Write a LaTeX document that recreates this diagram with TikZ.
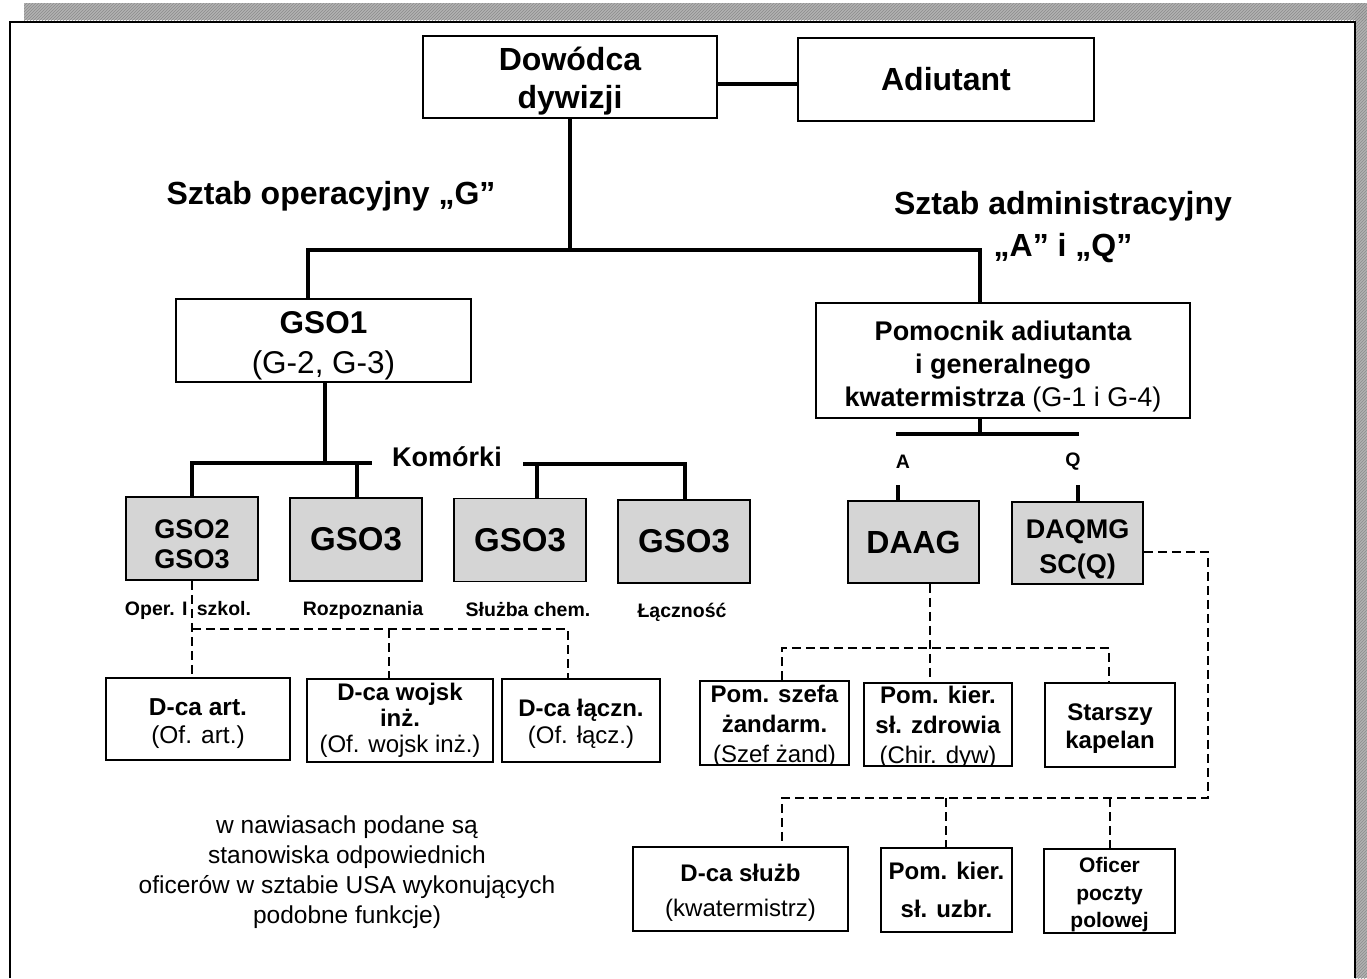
\documentclass[tikz,border=0pt]{standalone}
\usepackage{fontspec}
\setmainfont{Liberation Sans}
\usetikzlibrary{patterns}
\definecolor{cellgray}{RGB}{213,213,213}
\definecolor{stripgray}{RGB}{178,178,178}
\newcommand\fsz[2]{\fontsize{#1pt}{#2pt}\selectfont}

\begin{document}
\begin{tikzpicture}[x=1pt,y=-1pt,
  orgbox/.style={draw, line width=1.6pt, fill=white, inner sep=0pt, align=center},
  cell/.style={orgbox, fill=cellgray},
  % text set inside a box, clipped to it and moved down by a given amount
  intext/.style n args={3}{path picture={\node[font=#1, align=center, inner sep=0pt] at ([yshift=#2]path picture bounding box.center) {#3};}},
  link/.style={line width=3.2pt},
  dlink/.style={line width=2.4pt, dash pattern=on 9pt off 5pt},
  heading/.style={font=\fsz{32}{42}\bfseries, align=center, inner sep=0pt},
  lbl/.style={font=\fsz{19.5}{22}\bfseries, inner sep=0pt},
]
\useasboundingbox (0,0) rectangle (1367,978);

% grey hatched margins
\fill[stripgray] (24,3) rectangle (1367,20);
\fill[stripgray] (1355,3) rectangle (1367,978);
\fill[pattern=north east lines, pattern color=black!45] (24,3) rectangle (1367,20);
\fill[pattern=north east lines, pattern color=black!45] (1355,3) rectangle (1367,978);
% page frame
\draw[line width=2.2pt] (10,978) -- (10,22) -- (1355,22) -- (1355,978);

% command level
\node[orgbox, minimum width=294pt, minimum height=82pt,
  intext={\fsz{32}{38}\bfseries}{-4pt}{Dowódca\\dywizji}] (dow) at (570,77) {};
\node[orgbox, minimum width=296pt, minimum height=83pt, font=\fsz{32}{37}\bfseries] (adj) at (946,79.5) {Adiutant};

% staff headings
\node[heading] (hg) at (331,196) {Sztab operacyjny „G”};
\node[heading] (ha) at (1063,227) {Sztab administracyjny\\„A” i „Q”};

% senior staff officers
\node[orgbox, minimum width=295pt, minimum height=83pt,
  intext={\fsz{31.5}{40}}{-5pt}{\textbf{GSO1}\\(G-2, G-3)}] (gso1) at (323.5,340.5) {};
\node[orgbox, minimum width=374pt, minimum height=115pt,
  intext={\fsz{27}{33}\bfseries}{-6pt}{Pomocnik adiutanta\\i generalnego\\kwatermistrza {\mdseries (G-1 i G-4)}}] (pom) at (1003,360.5) {};

% cells
\node[font=\fsz{27}{30}\bfseries, inner sep=0pt] (kom) at (447,457) {Komórki};
\node[cell, minimum width=132pt, minimum height=83pt,
  intext={\fsz{27}{30}\bfseries}{-6pt}{GSO2\\GSO3}] (g1) at (192,538.5) {};
\node[cell, minimum width=132pt, minimum height=83pt, font=\fsz{33}{36}\bfseries] (g2) at (356,539.5) {GSO3};
\node[cell, minimum width=132pt, minimum height=83pt, font=\fsz{33}{36}\bfseries] (g3) at (520,540) {GSO3};
\node[cell, minimum width=132pt, minimum height=83pt, font=\fsz{33}{36}\bfseries] (g4) at (684,541.5) {GSO3};
\node[lbl] (l1) at (188,610) {Oper. I\hspace{4pt} szkol.};
\node[lbl] (l2) at (363,610) {Rozpoznania};
\node[lbl] (l3) at (528,610) {Służba chem.};
\node[lbl] (l4) at (682,612) {Łączność};

\node[lbl] (la) at (903,462) {A};
\node[lbl] (lq) at (1073,462) {Q};
\node[cell, minimum width=131pt, minimum height=82pt, font=\fsz{32}{36}\bfseries] (daag) at (913.5,542) {DAAG};
\node[cell, minimum width=131pt, minimum height=82pt,
  intext={\fsz{27}{35}\bfseries}{-6pt}{DAQMG\\SC(Q)}] (daqmg) at (1077.5,543) {};

% arms and services heads
\node[orgbox, minimum width=184pt, minimum height=82pt,
  intext={\fsz{24.5}{28}}{-5pt}{\textbf{D-ca art.}\\(Of. art.)}] (dart) at (198,719) {};
\node[orgbox, minimum width=186pt, minimum height=83pt,
  intext={\fsz{24}{26}}{0pt}{\textbf{D-ca wojsk}\\\textbf{inż.}\\(Of. wojsk inż.)}] (dwoj) at (400,720.5) {};
\node[orgbox, minimum width=158pt, minimum height=83pt,
  intext={\fsz{24}{27}}{-3pt}{\textbf{D-ca łączn.}\\(Of. łącz.)}] (dlacz) at (581,720.5) {};

\node[orgbox, minimum width=149pt, minimum height=84pt,
  intext={\fsz{24}{30}}{-2.8pt}{\textbf{Pom. szefa}\\\textbf{żandarm.}\\(Szef żand)}] (pszef) at (774.5,723) {};
\node[orgbox, minimum width=148pt, minimum height=83pt,
  intext={\fsz{24}{30}}{-2.8pt}{\textbf{Pom. kier.}\\\textbf{sł. zdrowia}\\(Chir. dyw)}] (pzdr) at (938,724.5) {};
\node[orgbox, minimum width=130pt, minimum height=84pt,
  intext={\fsz{24}{28}\bfseries}{-4pt}{Starszy\\kapelan}] (kap) at (1110,725) {};

\node[orgbox, minimum width=215pt, minimum height=84pt,
  intext={\fsz{24}{35}}{-4pt}{\textbf{D-ca służb}\\(kwatermistrz)}] (dsl) at (740.5,889) {};
\node[orgbox, minimum width=131pt, minimum height=84pt, font=\fsz{24}{38}\bfseries] (puzb) at (946.5,890) {Pom. kier.\\sł. uzbr.};
\node[orgbox, minimum width=131pt, minimum height=84pt,
  intext={\fsz{21}{27.5}\bfseries}{-4pt}{Oficer\\poczty\\polowej}] (ofi) at (1109.5,891) {};

% footnote
\node[font=\fsz{24.5}{30}, align=center, inner sep=0pt] (note) at (347,872) {w nawiasach podane są\\stanowiska odpowiednich\\oficerów w sztabie USA wykonujących\\podobne funkcje)};

% solid command lines
\coordinate (aj) at (0,84);
\draw[link] (dow.east |- aj) -- (adj.west |- aj);
\coordinate (tj) at (570,250);
\coordinate (tl) at (308,250);
\coordinate (tr) at (980,250);
\draw[link] (dow.south) -- (tj);
\draw[link] (tl |- gso1.north) -- (tl) -- (tr) -- (tr |- pom.north);

\coordinate (kj) at (325,463);
\coordinate (kl) at (192,463);
\coordinate (kr) at (372,463);
\coordinate (k2) at (357,463);
\draw[link] (kj |- gso1.south) -- (kj);
\draw[link] (kl |- g1.north) -- (kl) -- (kr);
\draw[link] (k2) -- (k2 |- g2.north);
\coordinate (ml) at (523,464);
\coordinate (m3) at (537,464);
\coordinate (mr) at (685,464);
\draw[link] (ml) -- (mr) -- (mr |- g4.north);
\draw[link] (m3) -- (m3 |- g3.north);

\coordinate (pj) at (980,434);
\coordinate (pl) at (896,434);
\coordinate (pr) at (1079,434);
\draw[link] (pj |- pom.south) -- (pj);
\draw[link] (pl) -- (pr);
\coordinate (at) at (898,485);
\coordinate (qt) at (1078,485);
\draw[link] (at) -- (at |- daag.north);
\draw[link] (qt) -- (qt |- daqmg.north);

% dashed lines of technical supervision
\coordinate (da) at (192,629);
\coordinate (db) at (389,629);
\coordinate (dc) at (568,629);
\draw[dlink] (da |- g1.south) -- (da |- dart.north);
\draw[dlink] (da) -- (dc) -- (dc |- dlacz.north);
\draw[dlink] (db) -- (db |- dwoj.north);

\coordinate (ea) at (930,648);
\coordinate (el) at (782,648);
\coordinate (er) at (1109,648);
\draw[dlink] (ea |- daag.south) -- (ea |- pzdr.north);
\draw[dlink] (el |- pszef.north) -- (el) -- (er) -- (er |- kap.north);

\coordinate (fq) at (1208,552);
\coordinate (fc) at (1208,798);
\coordinate (fl) at (782,798);
\coordinate (fm) at (946,798);
\coordinate (fr) at (1110,798);
\draw[dlink] (daqmg.east |- fq) -- (fq) -- (fc) -- (fl) -- (fl |- dsl.north);
\draw[dlink] (fm) -- (fm |- puzb.north);
\draw[dlink] (fr) -- (fr |- ofi.north);
\end{tikzpicture}
\end{document}
